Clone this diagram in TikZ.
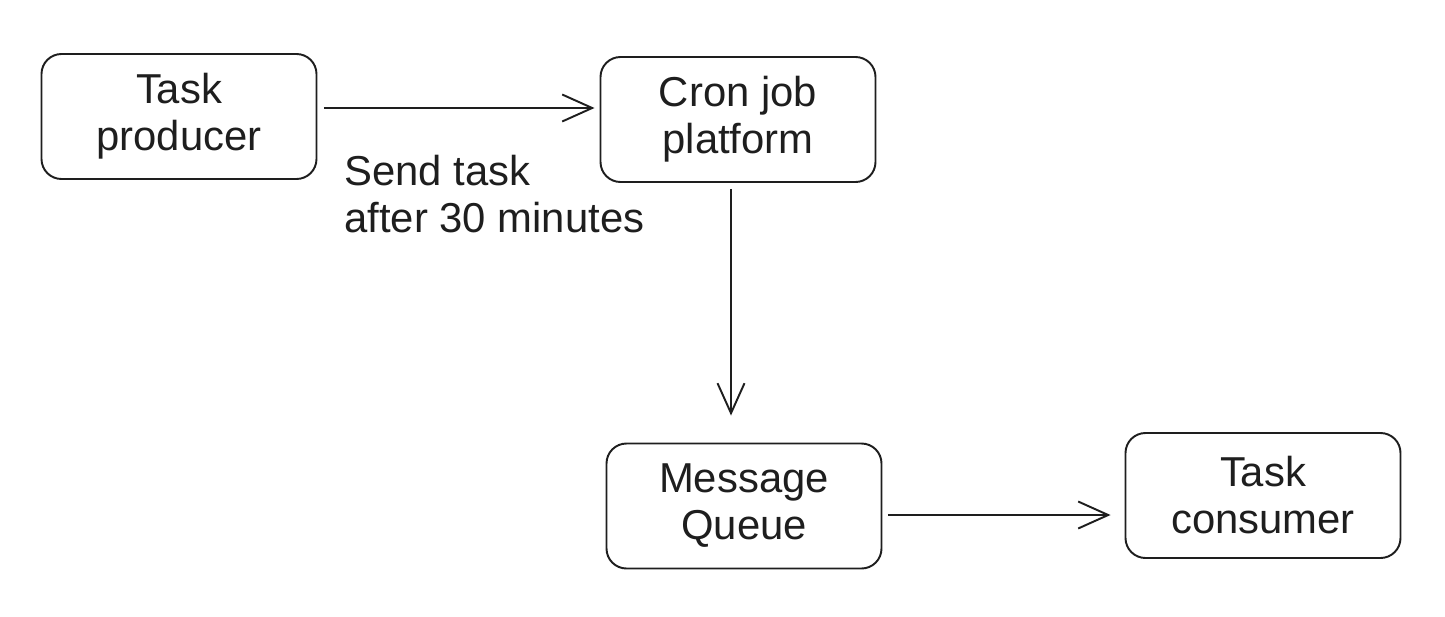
\documentclass[tikz,border=0pt]{standalone}
\usepackage{fontspec}
\setmainfont{Liberation Sans}
\usetikzlibrary{positioning,arrows.meta}
\definecolor{ink}{HTML}{1E1E1E}
\begin{document}
\begin{tikzpicture}[
        box/.style={draw=ink, line width=1.1pt, rounded corners=0.4cm, minimum width=5.5cm, minimum height=2.5cm, align=center, text=ink, font=\fontsize{23.8}{26.7}\selectfont},
        arr/.style={-{Straight Barb[length=0.6cm, width=0.54cm]}, draw=ink, line width=1.1pt}
    ]
        \useasboundingbox (-3.58,2.33) rectangle (25.32,-9.99);
        \node[box] (prod) {Task\\producer};
        \node[box, right of=prod, node distance=11.18cm, yshift=-0.06cm] (cron) {Cron job\\platform};
        \node[box, below of=cron, node distance=7.73cm, xshift=0.12cm] (mq) {Message\\Queue};
        \node[box, right of=mq, node distance=10.38cm, yshift=0.21cm] (cons) {Task\\consumer};
        \node[anchor=north west, inner sep=0, align=left, text=ink, font=\fontsize{23.8}{26.7}\selectfont] (note) at (3.3,-0.77) {Send task\\after 30 minutes};
        
        \draw[arr, shorten <=0.13cm, shorten >=0.1cm] ([yshift=0.17cm]prod.east) -- ([yshift=0.17cm]prod.east -| cron.west);
        \draw[arr, shorten <=0.12cm, shorten >=0.54cm] ([xshift=-0.14cm]cron.south) -- ([xshift=-0.14cm]cron.south |- mq.north);
        \draw[arr, shorten <=0.11cm, shorten >=0.28cm] ([yshift=-0.18cm]mq.east) -- ([yshift=-0.18cm]mq.east -| cons.west);
    \end{tikzpicture}
\end{document}
